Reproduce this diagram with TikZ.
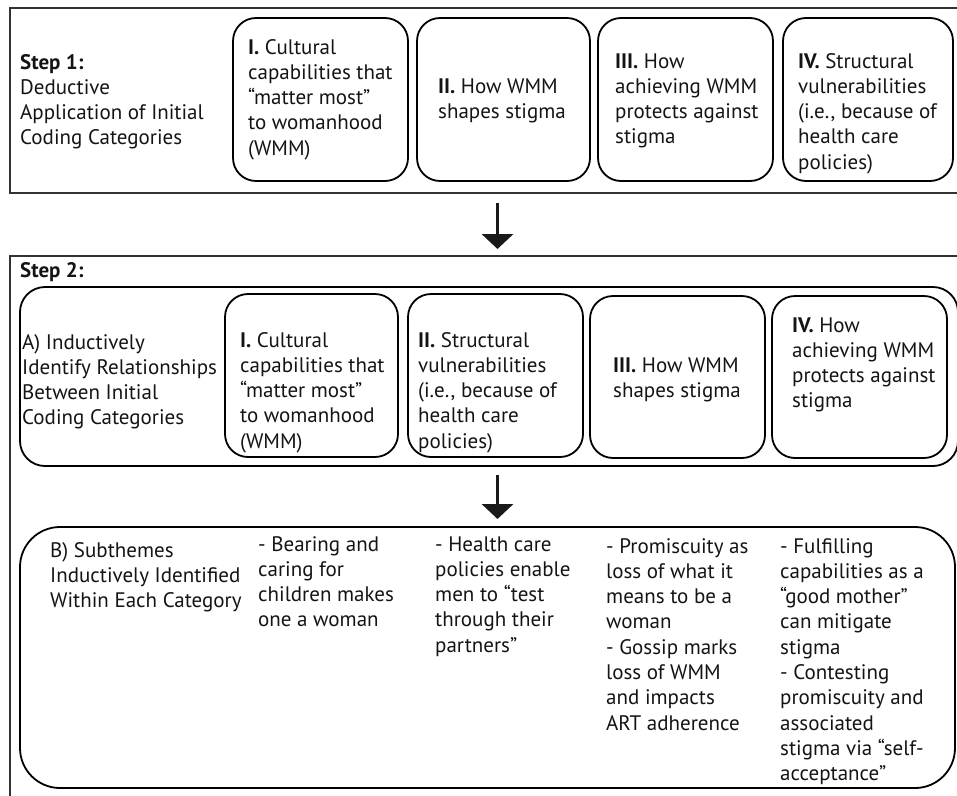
\documentclass[tikz,border=0pt]{standalone}
\usepackage{fontspec}
\setmainfont{PT Sans}
\usetikzlibrary{arrows.meta}
\newcommand{\fs}{\fontsize{21}{25.3}\selectfont}
\newcommand{\lns}[1]{\begin{tabular}[t]{@{}l@{}}#1\end{tabular}}
\begin{document}
\begin{tikzpicture}[x=1pt,y=-1pt,
  outer/.style={draw=black!80, line width=2pt, inner sep=0pt},
  rbox/.style={draw=black, line width=1.8pt, rounded corners=23pt, inner sep=0pt},
  txt/.style={anchor=base west, inner sep=0pt, font=\fs, text=black!92},
  bigarrow/.style={draw=black!90, line width=3.6pt, -{Triangle[width=31pt,length=15pt]}}]
\useasboundingbox (0,0) rectangle (957,795);
% Step 1
\node[outer, minimum width=952pt, minimum height=185pt] (s1) at (486,100.5) {};
\node[rbox, minimum width=175pt, minimum height=163pt] (s1a) at (320.5,99.5) {};
\node[rbox, minimum width=173pt, minimum height=163pt] (s1b) at (503.5,99.5) {};
\node[rbox, minimum width=175pt, minimum height=163pt] (s1c) at (685.5,99.5) {};
\node[rbox, minimum width=170pt, minimum height=163pt] (s1d) at (868,99.5) {};
\node[txt] (t1) at (20,69) {\lns{\textbf{Step 1:}\\Deductive\\Application of Initial\\Coding Categories}};
\node[txt] (t1a) at (248,54) {\lns{\textbf{I.} Cultural\\capabilities that\\“matter most”\\to womanhood\\(WMM)}};
\node[txt] (t1b) at (438,93) {\lns{\textbf{II.} How WMM\\shapes stigma}};
\node[txt] (t1c) at (615,68) {\lns{\textbf{III.} How\\achieving WMM\\protects against\\stigma}};
\node[txt] (t1d) at (798,68) {\lns{\textbf{IV.} Structural\\vulnerabilities\\(i.e., because of\\health care\\policies)}};
% Step 2
\node[outer, minimum width=952pt, minimum height=554pt] (s2) at (486,533) {};
\node[rbox, rounded corners=25pt, minimum width=938pt, minimum height=179pt] (sA) at (489,376.5) {};
\node[rbox, minimum width=173pt, minimum height=163pt] (s2a) at (311.5,375.5) {};
\node[rbox, minimum width=175pt, minimum height=163pt] (s2b) at (495.5,375.5) {};
\node[rbox, minimum width=175pt, minimum height=162pt] (s2c) at (677.5,377) {};
\node[rbox, minimum width=175pt, minimum height=162pt] (s2d) at (859.5,377) {};
\node[rbox, rounded corners=40pt, minimum width=935pt, minimum height=261pt] (sB) at (487.5,657.5) {};
\node[txt] (t2) at (20,277) {\textbf{Step 2:}};
\node[txt] (tA) at (22,349) {\lns{A) Inductively\\Identify Relationships\\Between Initial\\Coding Categories}};
\node[txt] (t2a) at (240,347) {\lns{\textbf{I.} Cultural\\capabilities that\\“matter most”\\to womanhood\\(WMM)}};
\node[txt] (t2b) at (418,347) {\lns{\textbf{II.} Structural\\vulnerabilities\\(i.e., because of\\health care\\policies)}};
\node[txt] (t2c) at (613,372) {\lns{\textbf{III.} How WMM\\shapes stigma}};
\node[txt] (t2d) at (792,332) {\lns{\textbf{IV.} How\\achieving WMM\\protects against\\stigma}};
\node[txt] (tB) at (50,557) {\lns{B) Subthemes\\Inductively Identified\\Within Each Category}};
\node[txt] (tB1) at (258,551) {\lns{- Bearing and\\caring for\\children makes\\one a woman}};
\node[txt] (tB2) at (435,551) {\lns{- Health care\\policies enable\\men to “test\\through their\\partners”}};
\node[txt] (tB3) at (606,553) {\lns{- Promiscuity as\\loss of what it\\means to be a\\woman\\- Gossip marks\\loss of WMM\\and impacts\\ART adherence}};
\node[txt] (tB4) at (780,553) {\lns{- Fulfilling\\capabilities as a\\“good mother”\\can mitigate\\stigma\\- Contesting\\promiscuity and\\associated\\stigma via “self-\\acceptance”}};
% arrows
\coordinate (a1s) at (497.5,203);
\coordinate (a1e) at (497.5,249);
\coordinate (a2s) at (497.5,475);
\coordinate (a2e) at (497.5,519);
\draw[bigarrow] (a1s) -- (a1e);
\draw[bigarrow] (a2s) -- (a2e);
\end{tikzpicture}
\end{document}
